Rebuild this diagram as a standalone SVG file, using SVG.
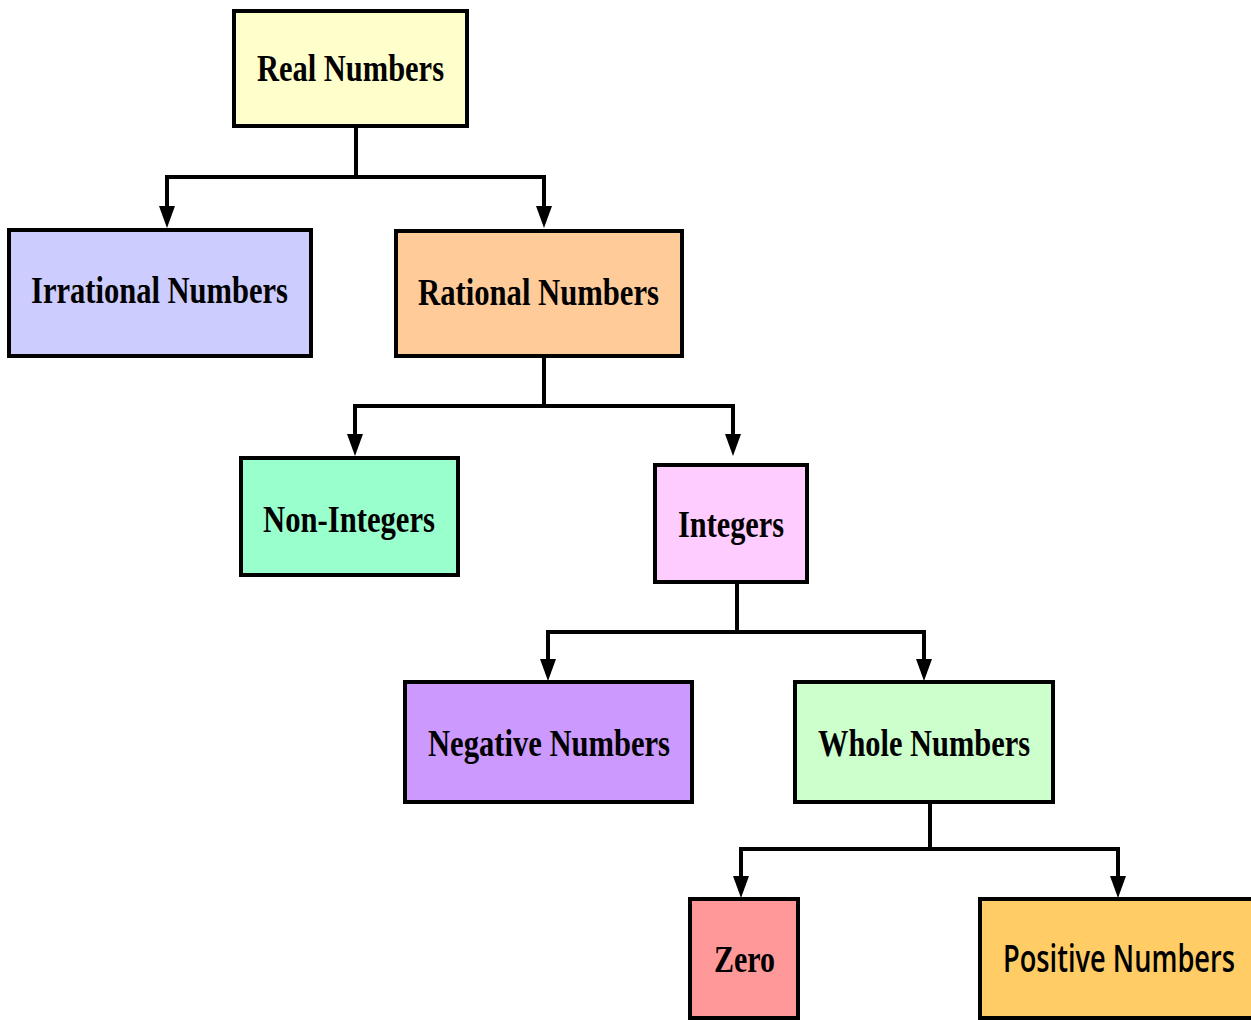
<svg xmlns="http://www.w3.org/2000/svg" width="1251" height="1020" viewBox="0 0 1251 1020">
<style>
.box{stroke:#000;stroke-width:4;}
.t{font-family:"Liberation Serif","Times New Roman",serif;font-weight:bold;font-size:38px;fill:#000;text-anchor:start;}
.s{font-family:"Open Sans","Noto Sans",sans-serif;font-weight:600;font-size:38px;fill:#000;}
.c{fill:none;stroke:#000;stroke-width:4;marker-end:url(#ah);}
</style>
<defs>
<marker id="ah" markerUnits="userSpaceOnUse" markerWidth="22" markerHeight="16" viewBox="0 0 22 16" refX="1" refY="8" orient="auto">
<path d="M0,0 L22,8 L0,16 z" fill="#000"/>
</marker>
</defs>
<rect width="1251" height="1020" fill="#fff"/>
<g id="connectors">
<path class="c" d="M356,126 V177 H167 V207"/>
<path class="c" d="M356,177 H544 V207"/>
<path class="c" d="M544,356 V406 H355 V435"/>
<path class="c" d="M544,406 H733 V435"/>
<path class="c" d="M737,582 V632 H548 V660"/>
<path class="c" d="M737,632 H924 V660"/>
<path class="c" d="M930,802 V849 H741 V877"/>
<path class="c" d="M930,849 H1118 V877"/>
</g>
<g id="real"><rect class="box" x="234" y="11" width="233" height="115" fill="#FFFFCC"/><text class="t" x="257" y="81" textLength="187" lengthAdjust="spacingAndGlyphs">Real Numbers</text></g>
<g id="irrational"><rect class="box" x="9" y="230" width="302" height="126" fill="#CCCCFF"/><text class="t" x="31" y="303" textLength="257" lengthAdjust="spacingAndGlyphs">Irrational Numbers</text></g>
<g id="rational"><rect class="box" x="396" y="231" width="286" height="125" fill="#FFCC99"/><text class="t" x="418" y="305" textLength="241" lengthAdjust="spacingAndGlyphs">Rational Numbers</text></g>
<g id="noninteger"><rect class="box" x="241" y="458" width="217" height="117" fill="#99FFCC"/><text class="t" x="263" y="532" textLength="172" lengthAdjust="spacingAndGlyphs">Non-Integers</text></g>
<g id="integers"><rect class="box" x="655" y="465" width="152" height="117" fill="#FFCCFF"/><text class="t" x="678" y="537" textLength="106" lengthAdjust="spacingAndGlyphs">Integers</text></g>
<g id="negative"><rect class="box" x="405" y="682" width="287" height="120" fill="#CC99FF"/><text class="t" x="428" y="756" textLength="242" lengthAdjust="spacingAndGlyphs">Negative Numbers</text></g>
<g id="whole"><rect class="box" x="795" y="682" width="258" height="120" fill="#CCFFCC"/><text class="t" x="818" y="756" textLength="212" lengthAdjust="spacingAndGlyphs">Whole Numbers</text></g>
<g id="zero"><rect class="box" x="690" y="899" width="108" height="119" fill="#FF9999"/><text class="t" x="714" y="972" textLength="61" lengthAdjust="spacingAndGlyphs">Zero</text></g>
<g id="positive"><rect class="box" x="980" y="899" width="275" height="119" fill="#FFCC66"/><text class="s" x="1003" y="972" textLength="232" lengthAdjust="spacingAndGlyphs">Positive Numbers</text></g>
</svg>
